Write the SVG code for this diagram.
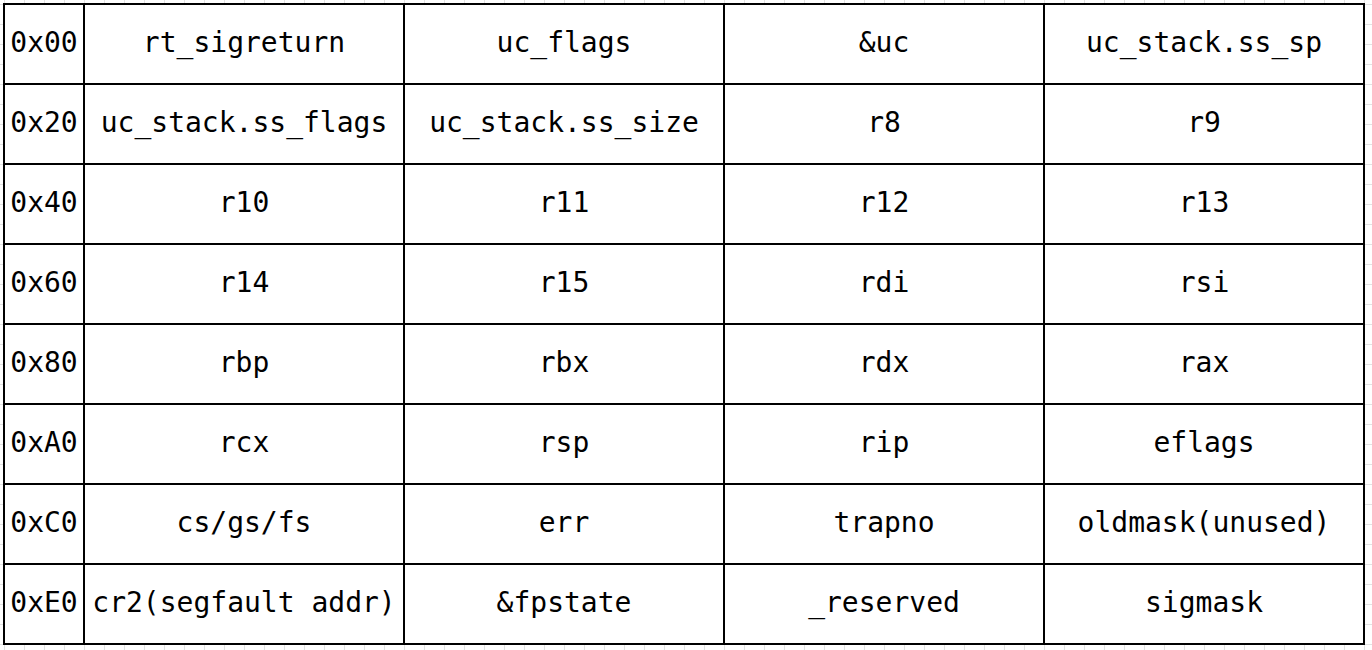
<svg xmlns="http://www.w3.org/2000/svg" width="1372" height="650" viewBox="0 0 1372 650">
<style>
.c{fill:#fff;stroke:#000;stroke-width:2}
.t{font-family:"DejaVu Sans Mono","Liberation Mono",monospace;font-size:28px;fill:#000;text-anchor:middle}
</style>
<defs>
<pattern id="grid" x="4" y="4" width="20" height="20" patternUnits="userSpaceOnUse">
<rect x="0" y="0" width="20" height="1" fill="#e2e2e2"/>
<rect x="0" y="0" width="1" height="20" fill="#e2e2e2"/>
</pattern>
</defs>
<rect width="1372" height="650" fill="#fff"/>
<rect width="1372" height="650" fill="url(#grid)"/>
<rect x="4" y="4" width="1360" height="640" fill="#fff"/>
<g id="table">
<g id="r0">
<rect class="c" x="4" y="4" width="80" height="80"/><text class="t" x="44" y="52">0x00</text>
<rect class="c" x="84" y="4" width="320" height="80"/><text class="t" x="244" y="52">rt_sigreturn</text>
<rect class="c" x="404" y="4" width="320" height="80"/><text class="t" x="564" y="52">uc_flags</text>
<rect class="c" x="724" y="4" width="320" height="80"/><text class="t" x="884" y="52">&amp;uc</text>
<rect class="c" x="1044" y="4" width="320" height="80"/><text class="t" x="1204" y="52">uc_stack.ss_sp</text>
</g>
<g id="r1">
<rect class="c" x="4" y="84" width="80" height="80"/><text class="t" x="44" y="132">0x20</text>
<rect class="c" x="84" y="84" width="320" height="80"/><text class="t" x="244" y="132">uc_stack.ss_flags</text>
<rect class="c" x="404" y="84" width="320" height="80"/><text class="t" x="564" y="132">uc_stack.ss_size</text>
<rect class="c" x="724" y="84" width="320" height="80"/><text class="t" x="884" y="132">r8</text>
<rect class="c" x="1044" y="84" width="320" height="80"/><text class="t" x="1204" y="132">r9</text>
</g>
<g id="r2">
<rect class="c" x="4" y="164" width="80" height="80"/><text class="t" x="44" y="212">0x40</text>
<rect class="c" x="84" y="164" width="320" height="80"/><text class="t" x="244" y="212">r10</text>
<rect class="c" x="404" y="164" width="320" height="80"/><text class="t" x="564" y="212">r11</text>
<rect class="c" x="724" y="164" width="320" height="80"/><text class="t" x="884" y="212">r12</text>
<rect class="c" x="1044" y="164" width="320" height="80"/><text class="t" x="1204" y="212">r13</text>
</g>
<g id="r3">
<rect class="c" x="4" y="244" width="80" height="80"/><text class="t" x="44" y="292">0x60</text>
<rect class="c" x="84" y="244" width="320" height="80"/><text class="t" x="244" y="292">r14</text>
<rect class="c" x="404" y="244" width="320" height="80"/><text class="t" x="564" y="292">r15</text>
<rect class="c" x="724" y="244" width="320" height="80"/><text class="t" x="884" y="292">rdi</text>
<rect class="c" x="1044" y="244" width="320" height="80"/><text class="t" x="1204" y="292">rsi</text>
</g>
<g id="r4">
<rect class="c" x="4" y="324" width="80" height="80"/><text class="t" x="44" y="372">0x80</text>
<rect class="c" x="84" y="324" width="320" height="80"/><text class="t" x="244" y="372">rbp</text>
<rect class="c" x="404" y="324" width="320" height="80"/><text class="t" x="564" y="372">rbx</text>
<rect class="c" x="724" y="324" width="320" height="80"/><text class="t" x="884" y="372">rdx</text>
<rect class="c" x="1044" y="324" width="320" height="80"/><text class="t" x="1204" y="372">rax</text>
</g>
<g id="r5">
<rect class="c" x="4" y="404" width="80" height="80"/><text class="t" x="44" y="452">0xA0</text>
<rect class="c" x="84" y="404" width="320" height="80"/><text class="t" x="244" y="452">rcx</text>
<rect class="c" x="404" y="404" width="320" height="80"/><text class="t" x="564" y="452">rsp</text>
<rect class="c" x="724" y="404" width="320" height="80"/><text class="t" x="884" y="452">rip</text>
<rect class="c" x="1044" y="404" width="320" height="80"/><text class="t" x="1204" y="452">eflags</text>
</g>
<g id="r6">
<rect class="c" x="4" y="484" width="80" height="80"/><text class="t" x="44" y="532">0xC0</text>
<rect class="c" x="84" y="484" width="320" height="80"/><text class="t" x="244" y="532">cs/gs/fs</text>
<rect class="c" x="404" y="484" width="320" height="80"/><text class="t" x="564" y="532">err</text>
<rect class="c" x="724" y="484" width="320" height="80"/><text class="t" x="884" y="532">trapno</text>
<rect class="c" x="1044" y="484" width="320" height="80"/><text class="t" x="1204" y="532">oldmask(unused)</text>
</g>
<g id="r7">
<rect class="c" x="4" y="564" width="80" height="80"/><text class="t" x="44" y="612">0xE0</text>
<rect class="c" x="84" y="564" width="320" height="80"/><text class="t" x="244" y="612">cr2(segfault addr)</text>
<rect class="c" x="404" y="564" width="320" height="80"/><text class="t" x="564" y="612">&amp;fpstate</text>
<rect class="c" x="724" y="564" width="320" height="80"/><text class="t" x="884" y="612">_reserved</text>
<rect class="c" x="1044" y="564" width="320" height="80"/><text class="t" x="1204" y="612">sigmask</text>
</g>
</g>
</svg>
